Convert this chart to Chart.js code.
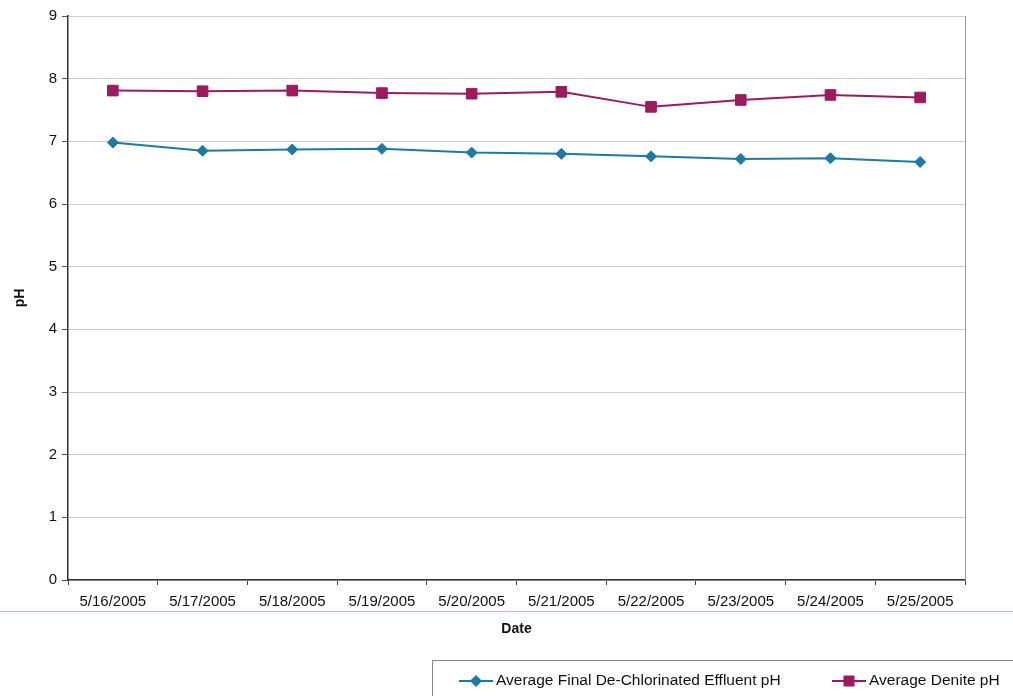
<!DOCTYPE html>
<html>
<head>
<meta charset="utf-8">
<script src="https://cdn.jsdelivr.net/npm/chart.js@4/dist/chart.umd.min.js"></script>
<style>
  html, body { margin: 0; padding: 0; background: #fff; }
  #wrap { width: 1013px; height: 696px; position: relative; }
</style>
</head>
<body>
<div id="wrap"><canvas id="c" width="1013" height="696"></canvas></div>
<script>
// Sample dates and daily average pH readings
const dates = ['5/16/2005', '5/17/2005', '5/18/2005', '5/19/2005', '5/20/2005',
               '5/21/2005', '5/22/2005', '5/23/2005', '5/24/2005', '5/25/2005'];
const effluentPH = [6.98, 6.85, 6.87, 6.88, 6.82, 6.80, 6.76, 6.72, 6.73, 6.67];
const denitePH   = [7.81, 7.80, 7.81, 7.77, 7.76, 7.79, 7.55, 7.66, 7.74, 7.70];
const yTicks = [0, 1, 2, 3, 4, 5, 6, 7, 8, 9];

const FONT = "'Liberation Sans', Arial, sans-serif";
const TEAL = '#1d7ba2';
const MAGENTA = '#9d1b5d';

// Plot frame, separator rule and boxed legend
const decorations = {
  id: 'decorations',
  beforeDatasetsDraw(chart) {
    const { ctx, chartArea: a } = chart;
    ctx.save();
    ctx.strokeStyle = '#9a9a9a';
    ctx.lineWidth = 1;
    ctx.beginPath();
    ctx.moveTo(a.right + 0.5, a.top);
    ctx.lineTo(a.right + 0.5, a.bottom);
    ctx.stroke();
    ctx.restore();
  },
  afterDraw(chart) {
    const { ctx } = chart;
    ctx.save();
    // faint rule across the page
    ctx.strokeStyle = '#f0a6cb';
    ctx.lineWidth = 1;
    ctx.beginPath();
    ctx.moveTo(0, 611.5);
    ctx.lineTo(chart.width, 611.5);
    ctx.stroke();

    // legend box
    ctx.strokeStyle = '#8a8a8a';
    ctx.strokeRect(432.5, 660.5, 640, 60);

    const items = chart.data.datasets.map(ds => ({
      label: ds.label, color: ds.borderColor, style: ds.pointStyle, r: ds.pointRadius
    }));
    const xs = [459, 832];
    const ly = 681;
    ctx.font = '15.5px ' + FONT;
    ctx.textBaseline = 'middle';
    items.forEach((it, i) => {
      const x0 = xs[i];
      ctx.strokeStyle = it.color;
      ctx.lineWidth = 2;
      ctx.beginPath();
      ctx.moveTo(x0, ly);
      ctx.lineTo(x0 + 34, ly);
      ctx.stroke();
      ctx.fillStyle = it.color;
      Chart.helpers.drawPoint(ctx, {
        pointStyle: it.style, radius: it.r * 0.85, borderWidth: 1, rotation: 0
      }, x0 + 17, ly);
      ctx.fill();
      ctx.fillStyle = '#111';
      ctx.fillText(it.label, x0 + 37, ly);
    });
    ctx.restore();
  }
};

new Chart(document.getElementById('c'), {
  type: 'line',
  data: {
    labels: dates,
    datasets: [
      {
        label: 'Average Final De-Chlorinated Effluent pH',
        data: effluentPH,
        borderColor: TEAL,
        backgroundColor: TEAL,
        borderWidth: 2,
        pointStyle: 'rectRot',
        pointRadius: 5.5,
        pointBorderWidth: 1,
        tension: 0
      },
      {
        label: 'Average Denite pH',
        data: denitePH,
        borderColor: MAGENTA,
        backgroundColor: MAGENTA,
        borderWidth: 2,
        pointStyle: 'rect',
        pointRadius: 7.5,
        pointBorderWidth: 1,
        tension: 0
      }
    ]
  },
  options: {
    responsive: false,
    animation: false,
    devicePixelRatio: 1,
    layout: { padding: { left: 0, top: 16, right: 48, bottom: 56 } },
    plugins: {
      legend: { display: false },
      tooltip: { enabled: false }
    },
    scales: {
      x: {
        type: 'category',
        offset: true,
        grid: {
          offset: true,
          drawOnChartArea: false,
          drawTicks: true,
          tickLength: 5,
          tickColor: '#444'
        },
        border: { color: '#333', width: 1.5 },
        ticks: {
          color: '#111',
          font: { family: FONT, size: 15 },
          padding: 8,
          maxRotation: 0,
          autoSkip: false
        },
        title: {
          display: true,
          text: 'Date',
          color: '#111',
          font: { family: FONT, size: 14, weight: 'bold' },
          padding: { top: 0, bottom: 2 }
        },
        afterFit(scale) { scale.height = 60; }
      },
      y: {
        min: 0,
        max: 9,
        afterBuildTicks(scale) { scale.ticks = yTicks.map(v => ({ value: v })); },
        grid: {
          color: '#cfcfcf',
          tickColor: '#555',
          tickLength: 6,
          lineWidth: 1
        },
        border: { color: '#333', width: 1.5, dash: [] },
        ticks: {
          color: '#111',
          font: { family: FONT, size: 15 },
          padding: 5
        },
        title: {
          display: true,
          text: 'pH',
          color: '#111',
          font: { family: FONT, size: 14, weight: 'bold' },
          padding: { top: 12, bottom: 0 }
        },
        afterFit(scale) { scale.width = 68; }
      }
    }
  },
  plugins: [decorations]
});
</script>
</body>
</html>
